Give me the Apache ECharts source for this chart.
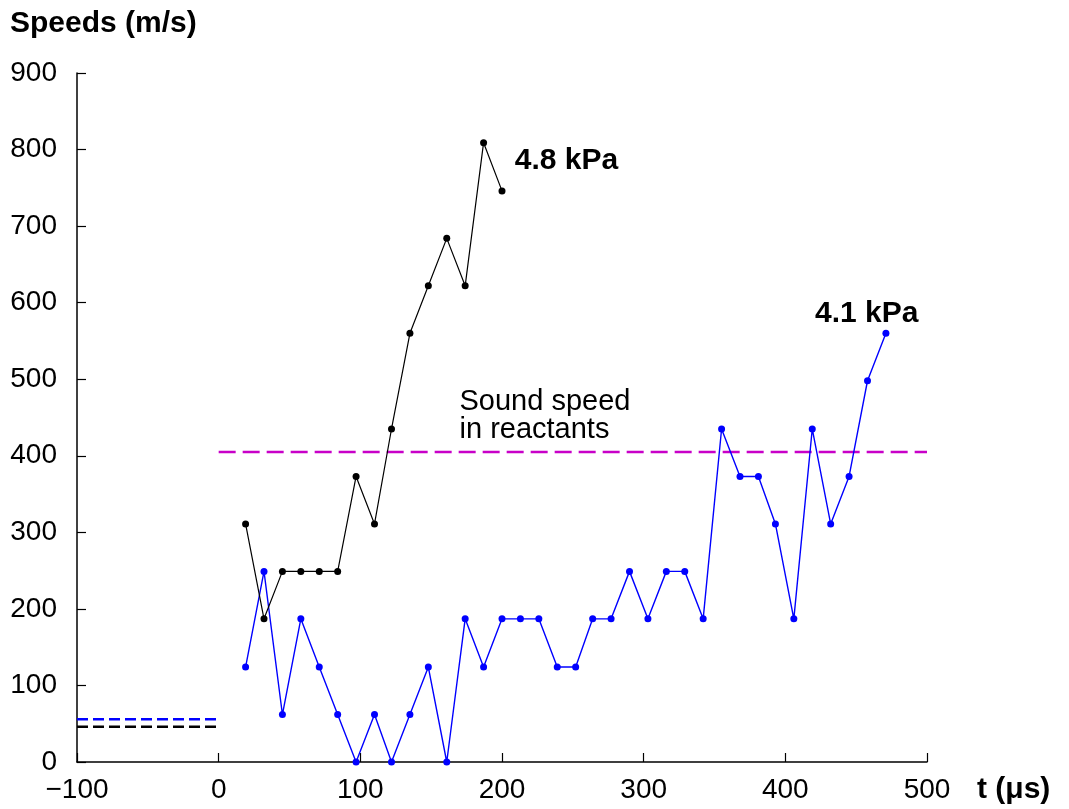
<!DOCTYPE html>
<html>
<head>
<meta charset="utf-8">
<script src="https://cdn.jsdelivr.net/npm/echarts@6/dist/echarts.min.js"></script>
<style>
  html, body { margin: 0; padding: 0; background: #fff; }
  #main { width: 1069px; height: 809px; }
</style>
</head>
<body>
<div id="main"></div>
<script>
// time of each frame (μs)
var times = [19, 32, 45, 58, 71, 84, 97, 110, 122, 135, 148, 161, 174, 187, 200,
             213, 226, 239, 252, 264, 277, 290, 303, 316, 329, 342, 355, 368, 381,
             393, 406, 419, 432, 445, 458, 471];
// 4.8 kPa run (black), first 15 frames
var speeds48 = [311, 187, 249, 249, 249, 249, 373, 311, 435, 560, 622, 684, 622, 809, 746];
// 4.1 kPa run (blue)
var speeds41 = [124, 249, 62, 187, 124, 62, 0, 62, 0, 62, 124, 0, 187, 124, 187,
                187, 187, 124, 124, 187, 187, 249, 187, 249, 249, 187, 435, 373, 373,
                311, 187, 435, 311, 373, 498, 560];
var soundSpeed = 405;
var initBlue = 56;
var initBlack = 46;
var xTicks = [-100, 0, 100, 200, 300, 400, 500];
var yTicks = [0, 100, 200, 300, 400, 500, 600, 700, 800, 900];

var font = '"Liberation Sans", Arial, Helvetica, sans-serif';

function pairs(xs, ys) {
    var out = [];
    for (var i = 0; i < ys.length; i++) out.push([xs[i], ys[i]]);
    return out;
}

var chart = echarts.init(document.getElementById('main'));

var option = {
    animation: false,
    backgroundColor: '#fff',
    grid: { left: 77, right: 142, top: 73, bottom: 47 },
    xAxis: {
        type: 'value',
        min: xTicks[0],
        max: xTicks[xTicks.length - 1],
        interval: 100,
        axisLine: { show: true, onZero: false, lineStyle: { color: '#000', width: 1.5 } },
        axisTick: { show: true, inside: true, length: 9, lineStyle: { color: '#000', width: 1.2 } },
        axisLabel: {
            color: '#000', fontSize: 28, fontFamily: font, margin: 14,
            formatter: function (v) { return String(v).replace('-', '\u2212'); }
        },
        splitLine: { show: false }
    },
    yAxis: {
        type: 'value',
        min: yTicks[0],
        max: yTicks[yTicks.length - 1],
        interval: 100,
        axisLine: { show: true, onZero: false, lineStyle: { color: '#000', width: 1.5 } },
        axisTick: { show: true, inside: true, length: 9, lineStyle: { color: '#000', width: 1.2 } },
        axisLabel: { color: '#000', fontSize: 28, fontFamily: font, margin: 20 },
        splitLine: { show: false }
    },
    series: [
        {
            name: 'sound',
            type: 'line',
            data: [[0, soundSpeed], [500, soundSpeed]],
            symbol: 'none',
            lineStyle: { color: '#c800c8', width: 2.5, type: [17, 7] },
            z: 1
        },
        {
            name: 'init41',
            type: 'line',
            data: [[-100, initBlue], [0, initBlue]],
            symbol: 'none',
            lineStyle: { color: '#0000ff', width: 2.5, type: [11, 5] }
        },
        {
            name: 'init48',
            type: 'line',
            data: [[-100, initBlack], [0, initBlack]],
            symbol: 'none',
            lineStyle: { color: '#000', width: 2.5, type: [11, 5] }
        },
        {
            name: '4.1 kPa',
            type: 'line',
            data: pairs(times, speeds41),
            symbol: 'circle',
            symbolSize: 7,
            itemStyle: { color: '#0000ff' },
            lineStyle: { color: '#0000ff', width: 1.4 },
            z: 3
        },
        {
            name: '4.8 kPa',
            type: 'line',
            data: pairs(times, speeds48),
            symbol: 'circle',
            symbolSize: 7,
            itemStyle: { color: '#000' },
            lineStyle: { color: '#000', width: 1.2 },
            z: 4
        }
    ]
};
chart.setOption(option);

// annotations placed from data coordinates
var p48 = chart.convertToPixel({ gridIndex: 0 }, [209, 786]);
var p41 = chart.convertToPixel({ gridIndex: 0 }, [421, 586]);
var pSound = chart.convertToPixel({ gridIndex: 0 }, [170, 489]);

chart.setOption({
    graphic: [
        { type: 'text', left: 10, top: 9,
          style: { text: 'Speeds (m/s)', font: 'bold 30px ' + font, fill: '#000' } },
        { type: 'text', left: 977, top: 775,
          style: { text: 't (\u03bcs)', font: 'bold 30px ' + font, fill: '#000' } },
        { type: 'text', x: p48[0], y: p48[1],
          style: { text: '4.8 kPa', font: 'bold 30px ' + font, fill: '#000', verticalAlign: 'middle' } },
        { type: 'text', x: p41[0], y: p41[1],
          style: { text: '4.1 kPa', font: 'bold 30px ' + font, fill: '#000', verticalAlign: 'middle' } },
        { type: 'text', x: pSound[0], y: pSound[1],
          style: { text: 'Sound speed\nin reactants', font: '29px ' + font, lineHeight: 28, fill: '#000', verticalAlign: 'top' } }
    ]
});
</script>
</body>
</html>
